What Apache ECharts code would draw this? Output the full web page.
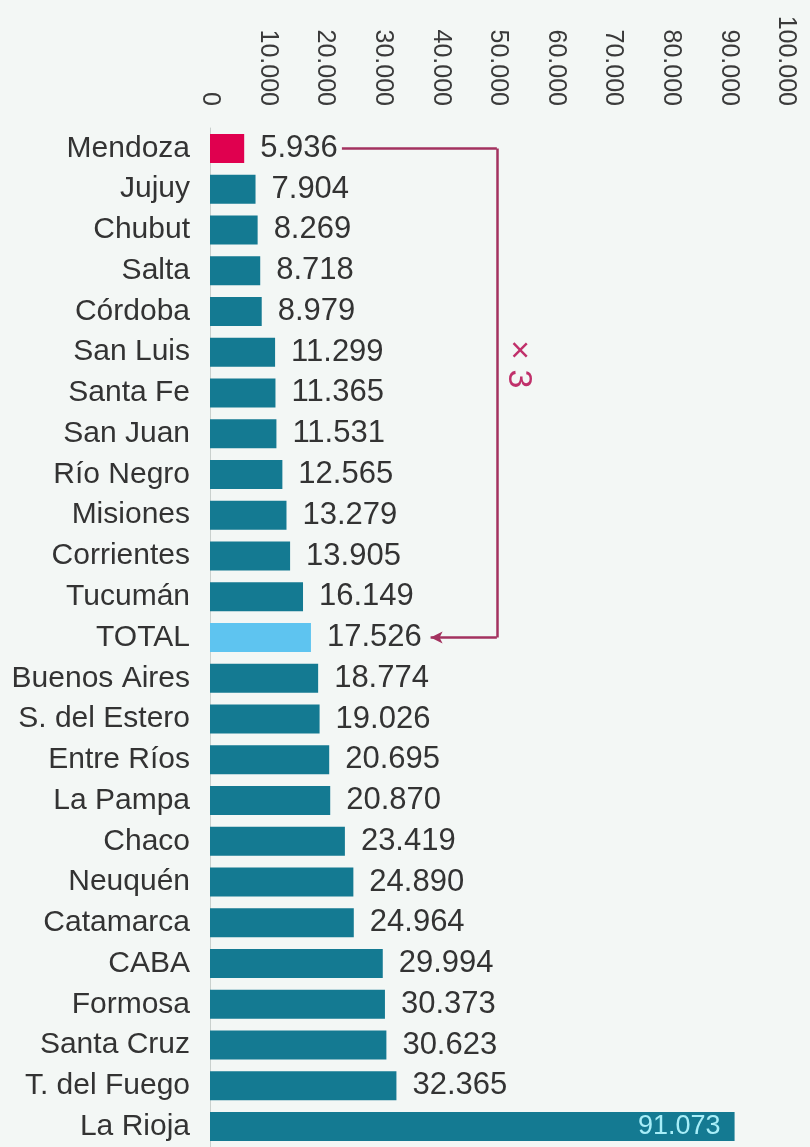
<!DOCTYPE html>
<html>
<head>
<meta charset="utf-8">
<script src="https://cdn.jsdelivr.net/npm/echarts@6/dist/echarts.min.js"></script>
<style>
html,body{margin:0;padding:0;background:#f3f7f5;}
#chart{width:810px;height:1147px;}
</style>
</head>
<body>
<div id="chart"></div>
<script>
const categories = ['Mendoza','Jujuy','Chubut','Salta','Córdoba','San Luis','Santa Fe','San Juan','Río Negro','Misiones','Corrientes','Tucumán','TOTAL','Buenos Aires','S. del Estero','Entre Ríos','La Pampa','Chaco','Neuquén','Catamarca','CABA','Formosa','Santa Cruz','T. del Fuego','La Rioja'];
const values = [5936,7904,8269,8718,8979,11299,11365,11531,12565,13279,13905,16149,17526,18774,19026,20695,20870,23419,24890,24964,29994,30373,30623,32365,91073];
const xTicks = [0,10000,20000,30000,40000,50000,60000,70000,80000,90000,100000];
const annotationText = '× 3';

const TEAL = '#147a92';
const RED = '#e0004f';
const LIGHT = '#5ec4f0';
const BRACKET = '#a3325f';

function fmt(v){
  return String(v).replace(/\B(?=(\d{3})+(?!\d))/g, '.');
}

const barData = values.map((v, i) => {
  const c = categories[i];
  const item = {value: v, itemStyle: {color: c === 'Mendoza' ? RED : (c === 'TOTAL' ? LIGHT : TEAL)}};
  if (c === 'La Rioja') {
    item.label = {position: 'insideRight', color: '#a8eef8', distance: 14, fontSize: 27};
  }
  return item;
});

const chart = echarts.init(document.getElementById('chart'), null, {renderer: 'canvas'});
chart.setOption({
  backgroundColor: '#f3f7f5',
  animation: false,
  grid: {left: 210, right: 24, top: 128, bottom: 0, containLabel: false},
  xAxis: {
    type: 'value',
    position: 'top',
    min: xTicks[0],
    max: xTicks[xTicks.length - 1],
    interval: 10000,
    axisLine: {show: false},
    axisTick: {show: false},
    splitLine: {show: false},
    axisLabel: {
      rotate: 90,
      margin: 22,
      fontSize: 25,
      color: '#3a3a3a',
      fontFamily: 'Liberation Sans, Arial, sans-serif',
      formatter: v => fmt(v)
    }
  },
  yAxis: {
    type: 'category',
    data: categories,
    inverse: true,
    axisLine: {show: true, lineStyle: {color: '#c9d0cd', width: 1}},
    axisTick: {show: false},
    axisLabel: {
      margin: 20,
      fontSize: 30,
      color: '#333',
      fontFamily: 'Liberation Sans, Arial, sans-serif'
    }
  },
  series: [{
    type: 'bar',
    data: barData,
    barWidth: 29,
    label: {
      show: true,
      position: 'right',
      distance: 16,
      fontSize: 31,
      color: '#333',
      fontFamily: 'Liberation Sans, Arial, sans-serif',
      formatter: p => fmt(p.value)
    },
    markLine: {
      silent: true,
      symbol: 'none',
      lineStyle: {color: BRACKET, width: 2.5, type: 'solid'},
      label: {show: false},
      emphasis: {disabled: true},
      data: [
        [{coord: [22900, 'Mendoza']}, {coord: [49800, 'Mendoza']}],
        [{coord: [49800, 'Mendoza']}, {coord: [49800, 'TOTAL']}],
        [{coord: [49800, 'TOTAL'], symbol: 'none'}, {coord: [38300, 'TOTAL'], symbol: 'arrow', symbolSize: [9, 12]}]
      ]
    },
    markPoint: {
      silent: true,
      symbol: 'circle',
      symbolSize: 0,
      data: [{coord: [53600, 'San Luis']}],
      label: {
        show: true,
        formatter: annotationText,
        rotate: -90,
        offset: [12, 0],
        fontSize: 34,
        color: '#c0306a',
        fontFamily: 'Liberation Sans, Arial, sans-serif'
      }
    }
  }]
});
</script>
</body>
</html>
